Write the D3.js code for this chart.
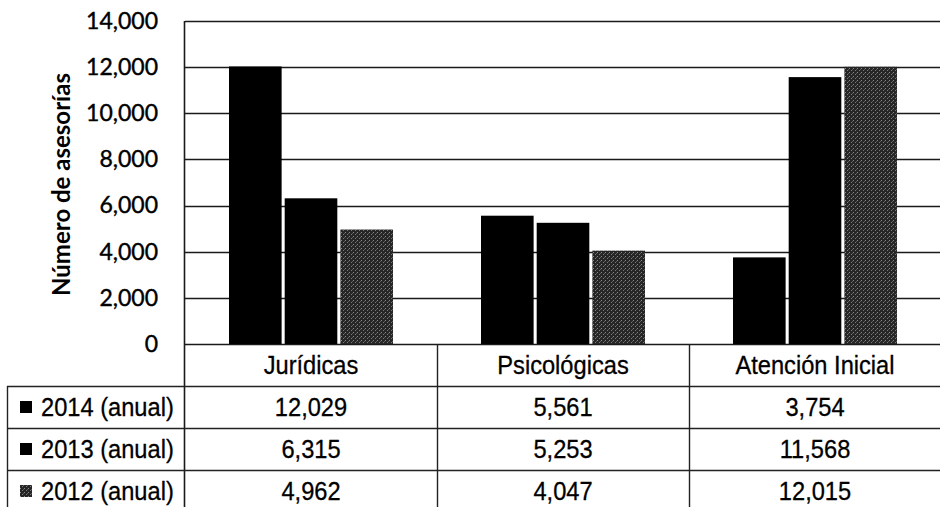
<!DOCTYPE html>
<html>
<head>
<meta charset="utf-8">
<script src="https://cdn.jsdelivr.net/npm/d3@7"></script>
<style>
  body { margin: 0; background: #fff; }
  svg { display: block; }
</style>
</head>
<body>
<div id="chart"></div>
<script>
var categories = ["Jurídicas", "Psicológicas", "Atención Inicial"];
var seriesNames = ["2014 (anual)", "2013 (anual)", "2012 (anual)"];
var v2014 = [12029, 5561, 3754];
var v2013 = [6315, 5253, 11568];
var v2012 = [4962, 4047, 12015];
var yTicks = [0, 2000, 4000, 6000, 8000, 10000, 12000, 14000];

var series = [v2014, v2013, v2012];
var width = 940, height = 507;
var plotLeft = 185, plotRight = 941, plotTop = 21, plotBottom = 344;
var rowH = 42, tableLeft = 7;

var svg = d3.select("#chart").append("svg")
   .attr("width", width)
   .attr("height", height);

// dithered gray for 2012
var defs = svg.append("defs");
var pat = defs.append("pattern")
   .attr("id", "dots")
   .attr("width", 4).attr("height", 4)
   .attr("patternUnits", "userSpaceOnUse");
pat.append("rect").attr("width", 4).attr("height", 4).attr("fill", "#262626");
pat.append("rect").attr("x", 0).attr("y", 0).attr("width", 1).attr("height", 1).attr("fill", "#8a8a8a");
pat.append("rect").attr("x", 2).attr("y", 2).attr("width", 1).attr("height", 1).attr("fill", "#7a7a7a");
pat.append("rect").attr("x", 3).attr("y", 1).attr("width", 1).attr("height", 1).attr("fill", "#5a5a5a");
var fills = ["#000", "#000", "url(#dots)"];

var y = d3.scaleLinear().domain([0, 14000]).range([plotBottom, plotTop]);
var x0 = d3.scaleBand().domain(categories).range([plotLeft, plotRight]);
var x1 = d3.scaleBand().domain(d3.range(series.length))
   .range([44, x0.bandwidth() - 44])
   .paddingInner(0.055);

// gridlines
svg.append("g").selectAll("line")
   .data(yTicks)
   .enter().append("line")
   .attr("x1", plotLeft).attr("x2", width)
   .attr("y1", function(d) { return Math.round(y(d)) + 0.5; })
   .attr("y2", function(d) { return Math.round(y(d)) + 0.5; })
   .attr("stroke", "#1a1a1a").attr("stroke-width", 1.4);

// y axis labels
var yAxis = d3.axisLeft(y).tickValues(yTicks).tickFormat(d3.format(",")).tickSize(0).tickPadding(0);
var ga = svg.append("g")
   .attr("transform", "translate(158,0)")
   .call(yAxis);
ga.select(".domain").remove();
ga.selectAll("text")
   .attr("font-family", "Lato, 'Open Sans', sans-serif")
   .attr("font-size", "23px")
   .attr("fill", "#000")
   .attr("stroke", "#000").attr("stroke-width", 0.4);

svg.append("text")
   .attr("transform", "translate(70," + ((plotTop + plotBottom) / 2 + 2) + ") rotate(-90)")
   .attr("text-anchor", "middle")
   .attr("font-family", "Lato, 'Open Sans', sans-serif")
   .attr("font-weight", "bold")
   .attr("font-size", "24px")
   .attr("fill", "#000")
   .text("Número de asesorías");

// bars
var groups = svg.append("g").selectAll("g")
   .data(categories)
   .enter().append("g")
   .attr("transform", function(d) { return "translate(" + x0(d) + ",0)"; });

groups.selectAll("rect")
   .data(function(d, i) { return series.map(function(s, k) { return { k: k, v: s[i] }; }); })
   .enter().append("rect")
   .attr("x", function(d) { return x1(d.k); })
   .attr("width", x1.bandwidth())
   .attr("y", function(d) { return y(d.v); })
   .attr("height", function(d) { return plotBottom - y(d.v); })
   .attr("fill", function(d) { return fills[d.k]; });

// plot left border
svg.append("line")
   .attr("x1", plotLeft - 0.5).attr("x2", plotLeft - 0.5)
   .attr("y1", plotTop).attr("y2", height)
   .attr("stroke", "#1a1a1a").attr("stroke-width", 1.6);

// data table
var table = svg.append("g");
var tFont = "'Liberation Sans Narrow', 'Arial Narrow', 'Liberation Sans', Arial, sans-serif";
var lineCol = "#222";

var rowYs = [plotBottom + rowH, plotBottom + 2 * rowH, plotBottom + 3 * rowH];
table.selectAll("line.h")
   .data(rowYs)
   .enter().append("line")
   .attr("x1", tableLeft).attr("x2", width)
   .attr("y1", function(d) { return d + 0.5; }).attr("y2", function(d) { return d + 0.5; })
   .attr("stroke", lineCol).attr("stroke-width", 1.4);

var colXs = categories.map(function(c) { return x0(c) + x0.bandwidth(); }).slice(0, 2);
table.selectAll("line.v")
   .data(colXs)
   .enter().append("line")
   .attr("x1", function(d) { return Math.round(d) + 0.5; })
   .attr("x2", function(d) { return Math.round(d) + 0.5; })
   .attr("y1", plotBottom).attr("y2", height)
   .attr("stroke", lineCol).attr("stroke-width", 1.4);
table.append("line")
   .attr("x1", tableLeft + 0.5).attr("x2", tableLeft + 0.5)
   .attr("y1", plotBottom + rowH).attr("y2", height)
   .attr("stroke", lineCol).attr("stroke-width", 1.4);

// narrow-looking table text: scale horizontally around its anchor point
function txt(sel, xf, yv) {
   return sel.attr("transform", function(d, i) {
         return "translate(" + xf(d, i) + "," + yv + ") scale(0.91,1)";
      })
      .attr("font-family", tFont)
      .attr("font-size", "26px")
      .attr("fill", "#000")
      .attr("stroke", "#000").attr("stroke-width", 0.3);
}

// category labels
txt(table.selectAll("text.cat")
   .data(categories)
   .enter().append("text")
   .attr("text-anchor", "middle")
   .text(function(d) { return d; }),
   function(d) { return x0(d) + x0.bandwidth() / 2; }, plotBottom + rowH / 2 + 9);

// series rows
var fmt = d3.format(",");
series.forEach(function(s, k) {
   var rowTop = plotBottom + rowH * (k + 1);
   var cy = rowTop + rowH / 2 + 9;
   table.append("rect")
      .attr("x", 20).attr("y", rowTop + rowH / 2 - 6)
      .attr("width", 12).attr("height", 12)
      .attr("fill", fills[k]);
   txt(table.append("text")
      .text(seriesNames[k]),
      function() { return 41; }, cy);
   txt(table.selectAll("text.v" + k)
      .data(s)
      .enter().append("text")
      .attr("text-anchor", "middle")
      .text(function(d) { return fmt(d); }),
      function(d, i) { return x0(categories[i]) + x0.bandwidth() / 2; }, cy);
});
</script>
</body>
</html>
